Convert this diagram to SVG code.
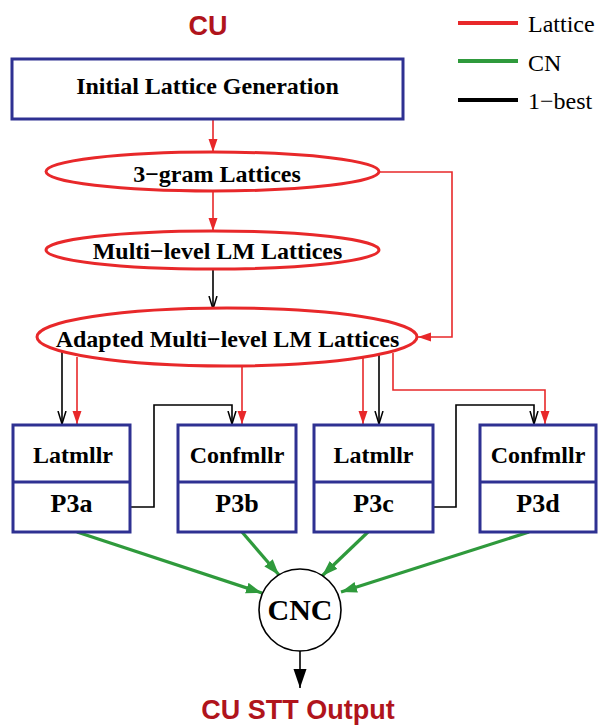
<svg xmlns="http://www.w3.org/2000/svg" width="598" height="726" viewBox="0 0 598 726">
<style>
.box{fill:#fff;stroke:#2e3192;stroke-width:3}
.ell{fill:#fff;stroke:#e8282a;stroke-width:3}
.t{font-family:"Liberation Serif","Times New Roman",serif;font-weight:bold;font-size:24px;fill:#000;text-anchor:middle}
.tp{font-family:"Liberation Serif","Times New Roman",serif;font-weight:bold;font-size:26px;fill:#000;text-anchor:middle}
.lg{font-family:"Liberation Serif","Times New Roman",serif;font-size:24px;fill:#000}
.title{font-family:"Liberation Sans",Arial,sans-serif;font-weight:bold;font-size:27px;fill:#b0141c;text-anchor:middle}
.r{fill:none;stroke:#e8282a;stroke-width:1.6}
.k{fill:none;stroke:#000;stroke-width:1.6}
.g{fill:none;stroke:#2f9a3c;stroke-width:3.2}
</style>
<defs>
<marker id="ar" markerUnits="userSpaceOnUse" markerWidth="13" markerHeight="10" refX="13" refY="4.5" orient="auto"><path d="M0,0 L13,4.5 L0,9 z" fill="#e8282a"/></marker>
<marker id="ak" markerUnits="userSpaceOnUse" markerWidth="14" markerHeight="10" refX="13" refY="4.5" orient="auto"><path d="M0,0.5 L13,4.5 L0,8.5" fill="none" stroke="#000" stroke-width="1.5"/></marker>
<marker id="ag" markerUnits="userSpaceOnUse" markerWidth="16" markerHeight="12" refX="16" refY="5.5" orient="auto"><path d="M0,0 L16,5.5 L0,11 z" fill="#2f9a3c"/></marker>
<marker id="ab" markerUnits="userSpaceOnUse" markerWidth="20" markerHeight="14" refX="19" refY="6.5" orient="auto"><path d="M0,0 L19,6.5 L0,13 z" fill="#000"/></marker>
</defs>

<text class="title" x="208" y="35">CU</text>

<g id="legend">
<line x1="458" y1="23" x2="518" y2="23" stroke="#e8282a" stroke-width="4"/>
<text class="lg" x="528" y="32">Lattice</text>
<line x1="458" y1="61" x2="518" y2="61" stroke="#2f9a3c" stroke-width="4"/>
<text class="lg" x="528" y="71">CN</text>
<line x1="458" y1="100" x2="518" y2="100" stroke="#000" stroke-width="4"/>
<text class="lg" x="528" y="109">1−best</text>
</g>

<g id="connectors">
<line class="r" x1="213" y1="120" x2="213" y2="152" marker-end="url(#ar)"/>
<line class="r" x1="213" y1="191" x2="213" y2="231" marker-end="url(#ar)"/>
<polyline class="r" points="379,172 452,172 452,337 418,337" marker-end="url(#ar)"/>
<line class="k" x1="213" y1="269" x2="213" y2="309" marker-end="url(#ak)"/>
<line class="k" x1="62" y1="352" x2="62" y2="424" marker-end="url(#ak)"/>
<line class="r" x1="77" y1="357" x2="77" y2="424" marker-end="url(#ar)"/>
<line class="r" x1="242" y1="366" x2="242" y2="424" marker-end="url(#ar)"/>
<polyline class="k" points="130,507 154,507 154,405 232,405 232,424" marker-end="url(#ak)"/>
<line class="r" x1="363" y1="358" x2="363" y2="424" marker-end="url(#ar)"/>
<line class="k" x1="379" y1="352" x2="379" y2="424" marker-end="url(#ak)"/>
<polyline class="r" points="393,353 393,390 545,390 545,424" marker-end="url(#ar)"/>
<polyline class="k" points="433,507 456,507 456,405 534,405 534,424" marker-end="url(#ak)"/>
<line class="g" x1="77" y1="532" x2="262" y2="593" marker-end="url(#ag)"/>
<line class="g" x1="242" y1="532" x2="279" y2="575" marker-end="url(#ag)"/>
<line class="g" x1="368" y1="532" x2="322" y2="576" marker-end="url(#ag)"/>
<line class="g" x1="529" y1="532" x2="341" y2="592" marker-end="url(#ag)"/>
<line x1="300" y1="651" x2="300" y2="688" stroke="#000" stroke-width="1.6" marker-end="url(#ab)"/>
</g>

<g id="initial">
<rect class="box" x="12" y="59" width="391" height="60"/>
<text class="t" x="207.5" y="94">Initial Lattice Generation</text>
</g>
<g id="trigram">
<ellipse class="ell" cx="212.5" cy="171.5" rx="166.5" ry="19.5"/>
<text class="t" x="217" y="182">3−gram Lattices</text>
</g>
<g id="multilevel">
<ellipse class="ell" cx="212.5" cy="250" rx="166.5" ry="19"/>
<text class="t" x="217.5" y="259">Multi−level LM Lattices</text>
</g>
<g id="adapted">
<ellipse class="ell" cx="227" cy="337" rx="190" ry="29"/>
<text class="t" x="227.5" y="347">Adapted Multi−level LM Lattices</text>
</g>

<g id="p3a">
<rect class="box" x="13" y="425" width="117" height="107"/>
<line x1="13" y1="482" x2="130" y2="482" stroke="#2e3192" stroke-width="3"/>
<text class="t" x="73" y="463">Latmllr</text>
<text class="tp" x="71.5" y="512">P3a</text>
</g>
<g id="p3b">
<rect class="box" x="178" y="425" width="118" height="107"/>
<line x1="178" y1="482" x2="296" y2="482" stroke="#2e3192" stroke-width="3"/>
<text class="t" x="237" y="463">Confmllr</text>
<text class="tp" x="237" y="512">P3b</text>
</g>
<g id="p3c">
<rect class="box" x="314" y="425" width="119" height="107"/>
<line x1="314" y1="482" x2="433" y2="482" stroke="#2e3192" stroke-width="3"/>
<text class="t" x="373.5" y="463">Latmllr</text>
<text class="tp" x="373.5" y="512">P3c</text>
</g>
<g id="p3d">
<rect class="box" x="480" y="425" width="116" height="107"/>
<line x1="480" y1="482" x2="596" y2="482" stroke="#2e3192" stroke-width="3"/>
<text class="t" x="538" y="463">Confmllr</text>
<text class="tp" x="538" y="512">P3d</text>
</g>

<g id="cnc">
<circle cx="300" cy="610" r="41" fill="#fff" stroke="#000" stroke-width="1.6"/>
<text class="t" x="300" y="620" style="font-size:30px">CNC</text>
</g>

<text class="title" x="298" y="719">CU STT Output</text>
</svg>
